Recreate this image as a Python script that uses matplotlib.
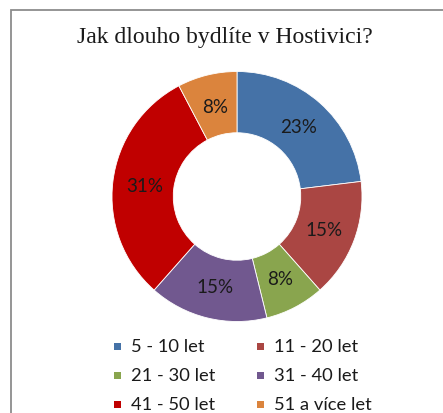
import matplotlib
matplotlib.use('Agg')
import matplotlib.pyplot as plt
from matplotlib.patches import Rectangle

title = 'Jak dlouho bydlíte v Hostivici?'
categories = ['5 - 10 let', '11 - 20 let', '21 - 30 let',
              '31 - 40 let', '41 - 50 let', '51 a více let']
counts = [3, 2, 1, 2, 4, 1]
colors = ['#4572A7', '#AA4643', '#89A54E', '#71588F', '#C00000', '#DB843D']

W, H = 443, 414
fig = plt.figure(figsize=(W / 100, H / 100), dpi=100)

# chart frame
fig.patches.append(Rectangle((11 / W, -0.05), 1.1, (H - 11) / H + 0.05,
                             transform=fig.transFigure, fill=False,
                             edgecolor='#8c8c8c', linewidth=1.3))

fig.text(225 / W, 1 - 38 / H, title, ha='center', va='center',
         fontsize=17, family='Liberation Serif', color='#1a1a1a')

# donut
cx, cy, r = 237, 197.5, 125
ax = fig.add_axes([(cx - r) / W, 1 - (cy + r) / H, 2 * r / W, 2 * r / H])
wedges, texts, autotexts = ax.pie(
    counts, colors=colors, startangle=90, counterclock=False,
    autopct='%1.0f%%', pctdistance=0.745,
    wedgeprops=dict(width=0.49, edgecolor='white', linewidth=0.6),
    textprops=dict(fontsize=13.5, family='Lato', color='#1a1a1a'))
ax.set_xlim(-1, 1)
ax.set_ylim(-1, 1)
ax.set_aspect('equal')
ax.axis('off')

# legend, row by row
x0, col_w = 114, 143
y0, row_h = 347, 29
sq = 7
for i, (name, c) in enumerate(zip(categories, colors)):
    row, col = divmod(i, 2)
    x = x0 + col * col_w
    y = y0 + row * row_h
    fig.patches.append(Rectangle((x / W, 1 - (y + sq / 2) / H), sq / W, sq / H,
                                 transform=fig.transFigure,
                                 facecolor=c, edgecolor='none'))
    fig.text((x + 17) / W, 1 - y / H, name, ha='left', va='center',
             fontsize=13.2, family='Lato', color='#1a1a1a')

fig.savefig('out.png', dpi=100)
